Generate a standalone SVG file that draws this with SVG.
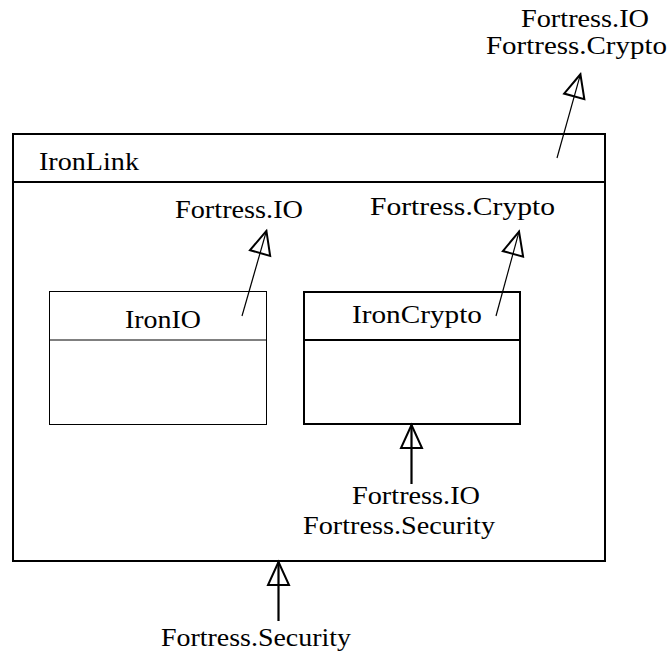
<svg xmlns="http://www.w3.org/2000/svg" width="669" height="655" viewBox="0 0 669 655">
<style>
text{font-family:"Liberation Serif","DejaVu Serif",serif;font-size:25px;fill:#000}
.thick{fill:none;stroke:#000;stroke-width:2}
.thin{fill:none;stroke:#000;stroke-width:1}
.dep{fill:none;stroke:#000;stroke-width:1.2}
.imp{fill:none;stroke:#000;stroke-width:2.2}
</style>
<defs>
<marker id="tri" viewBox="-26 -13 28 26" markerWidth="28" markerHeight="26" refX="0" refY="0" markerUnits="userSpaceOnUse" orient="auto">
<path d="M-1,0 L-24,-10.5 L-24,10.5 Z" fill="none" stroke="#000" stroke-width="2"/>
</marker>
</defs>
<g id="IronLink">
<rect class="thick" x="13" y="134" width="592" height="427"/>
<line class="thick" x1="13" y1="182" x2="605" y2="182"/>
<text x="39" y="170" textLength="100" lengthAdjust="spacingAndGlyphs">IronLink</text>
</g>
<g id="IronIO">
<rect class="thin" x="49.5" y="291.5" width="217" height="133"/>
<line class="thin" x1="49.5" y1="340" x2="266.5" y2="340"/>
<text x="125" y="328" textLength="76" lengthAdjust="spacingAndGlyphs">IronIO</text>
</g>
<g id="IronCrypto">
<rect class="thick" x="304" y="292" width="216" height="132"/>
<line class="thick" x1="304" y1="340" x2="520" y2="340"/>
<text x="352" y="323" textLength="130" lengthAdjust="spacingAndGlyphs">IronCrypto</text>
</g>
<g id="labels">
<text x="521" y="27" textLength="128" lengthAdjust="spacingAndGlyphs">Fortress.IO</text>
<text x="486" y="54" textLength="181" lengthAdjust="spacingAndGlyphs">Fortress.Crypto</text>
<text x="175" y="218" textLength="128" lengthAdjust="spacingAndGlyphs">Fortress.IO</text>
<text x="370" y="215" textLength="185" lengthAdjust="spacingAndGlyphs">Fortress.Crypto</text>
<text x="352" y="504" textLength="128" lengthAdjust="spacingAndGlyphs">Fortress.IO</text>
<text x="303" y="534" textLength="192" lengthAdjust="spacingAndGlyphs">Fortress.Security</text>
<text x="161" y="646" textLength="190" lengthAdjust="spacingAndGlyphs">Fortress.Security</text>
</g>
<g id="connectors">
<line class="dep" x1="557" y1="158" x2="580.7" y2="73.3" marker-end="url(#tri)"/>
<line class="dep" x1="242" y1="316" x2="266.7" y2="230" marker-end="url(#tri)"/>
<line class="dep" x1="496" y1="316" x2="519.3" y2="230.7" marker-end="url(#tri)"/>
<line class="imp" x1="411.5" y1="484" x2="411.5" y2="424" marker-end="url(#tri)"/>
<line class="imp" x1="278.5" y1="621" x2="278.5" y2="561" marker-end="url(#tri)"/>
</g>
</svg>
